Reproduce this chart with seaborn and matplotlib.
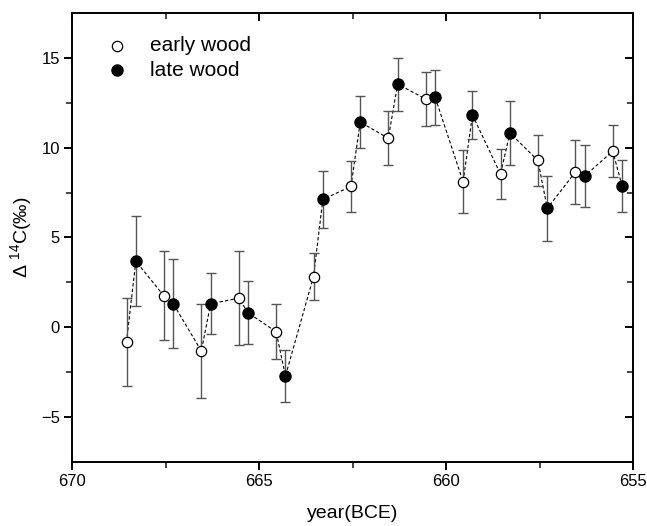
import numpy as np
import pandas as pd
import matplotlib
matplotlib.use("Agg")
import matplotlib.pyplot as plt
import seaborn as sns

# ===============================
# Data
# ===============================
early_year = [668.55, 667.55, 666.55, 665.55, 664.55, 663.55, 662.55,
              661.55, 660.55, 659.55, 658.55, 657.55, 656.55, 655.55]
early_d14c = [-0.8, 1.75, -1.32, 1.62, -0.25, 2.82, 7.84,
              10.53, 12.71, 8.10, 8.53, 9.29, 8.64, 9.81]
early_err = [2.45, 2.48, 2.64, 2.6, 1.53, 1.3, 1.43,
             1.51, 1.5, 1.76, 1.41, 1.43, 1.78, 1.43]

late_year = [668.3, 667.3, 666.3, 665.3, 664.3, 663.3, 662.3,
             661.3, 660.3, 659.3, 658.3, 657.3, 656.3, 655.3]
late_d14c = [3.68, 1.31, 1.31, 0.81, -2.71, 7.12, 11.42,
             13.54, 12.82, 11.82, 10.82, 6.62, 8.42, 7.88]
late_err = [2.5, 2.49, 1.7, 1.75, 1.47, 1.57, 1.44,
            1.47, 1.53, 1.35, 1.77, 1.79, 1.75, 1.44]

early = pd.DataFrame({"year": early_year, "d14c": early_d14c, "err": early_err, "wood": "early wood"})
late = pd.DataFrame({"year": late_year, "d14c": late_d14c, "err": late_err, "wood": "late wood"})
df = pd.concat([early, late]).sort_values("year", ascending=False).reset_index(drop=True)

# ===============================
# Plot
# ===============================
sns.set_style("ticks")
plt.rcParams["font.family"] = ["Liberation Sans", "DejaVu Sans"]
plt.rcParams["mathtext.fontset"] = "custom"
plt.rcParams["mathtext.rm"] = "Liberation Sans"
plt.rcParams["text.color"] = "black"
plt.rcParams["axes.labelcolor"] = "black"

fig = plt.figure(figsize=(6.47, 5.26), dpi=100)
ax = fig.add_axes([0.1117, 0.1217, 0.8671, 0.8536])

# dashed connecting line
sns.lineplot(data=df, x="year", y="d14c", sort=False, estimator=None,
             color="black", linestyle=(0, (3, 2)), linewidth=0.8, ax=ax, legend=False)

# error bars
ax.errorbar(df["year"], df["d14c"], yerr=df["err"], fmt="none",
            ecolor="#555555", elinewidth=1.0, capsize=3.5, capthick=1.0, zorder=2)

# markers
sns.scatterplot(data=early, x="year", y="d14c", marker="o", s=55,
                color="white", edgecolor="black", linewidth=0.9,
                label="early wood", ax=ax, zorder=3)
sns.scatterplot(data=late, x="year", y="d14c", marker="o", s=65,
                color="black", edgecolor="black", linewidth=0.9,
                label="late wood", ax=ax, zorder=3)

ax.set_xlim(670, 655)
ax.set_ylim(-7.5, 17.5)
ax.set_xticks([670, 665, 660, 655])
ax.set_xticks([667.5, 662.5, 657.5], minor=True)
ax.set_yticks([-5, 0, 5, 10, 15])
ax.set_yticks([-2.5, 2.5, 7.5, 12.5], minor=True)
ax.set_yticklabels(["\u22125", "0", "5", "10", "15"])

for side in ["left", "bottom", "top", "right"]:
    ax.spines[side].set_visible(True)
    ax.spines[side].set_linewidth(1.4)
    ax.spines[side].set_color("black")

ax.tick_params(which="major", direction="out", length=6, width=1.4, labelsize=12,
               colors="black", pad=3)
ax.tick_params(which="minor", direction="out", length=4, width=1.2)
ax.tick_params(which="both", top=True, right=True)

# top/right ticks point inward, bottom/left outward
for t in ax.xaxis.get_major_ticks() + ax.xaxis.get_minor_ticks():
    t.tick2line.set_marker(matplotlib.lines.TICKDOWN)
for t in ax.yaxis.get_major_ticks() + ax.yaxis.get_minor_ticks():
    t.tick2line.set_marker(matplotlib.lines.TICKLEFT)

ax.set_xlabel("year(BCE)", fontsize=14, labelpad=11)
ax.set_ylabel("\u0394 $^{14}$C(\u2030)", fontsize=14, labelpad=4)

leg = ax.legend(loc="upper left", frameon=False, fontsize=15, handletextpad=0.6,
                borderaxespad=0.4, labelspacing=0.25, bbox_to_anchor=(0.012, 0.985))
for txt in leg.get_texts():
    txt.set_color("black")

fig.savefig("out.png", dpi=100)
